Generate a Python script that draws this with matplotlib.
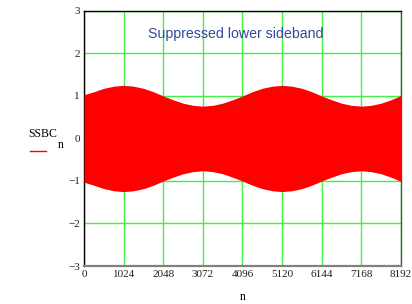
import numpy as np
import matplotlib
matplotlib.use("Agg")
import matplotlib.pyplot as plt
from matplotlib.lines import Line2D

# sample index where the envelope was read (every 256 samples)
n_pts = np.arange(0, 8193, 256)
# upper / lower envelope of the dense red signal
upper_env = [1.03, 1.10, 1.18, 1.23, 1.25, 1.23, 1.18, 1.10, 1.00, 0.91, 0.83, 0.78, 0.76,
             0.78, 0.83, 0.91, 1.00, 1.10, 1.18, 1.23, 1.25, 1.23, 1.18, 1.10, 1.00, 0.91,
             0.83, 0.78, 0.76, 0.78, 0.83, 0.91, 1.01]
lower_env = [-1.03, -1.10, -1.18, -1.23, -1.25, -1.23, -1.18, -1.10, -1.00, -0.91, -0.83, -0.78, -0.76,
             -0.78, -0.83, -0.91, -1.00, -1.10, -1.18, -1.23, -1.25, -1.23, -1.18, -1.10, -1.00, -0.91,
             -0.83, -0.78, -0.76, -0.78, -0.83, -0.91, -1.01]

x_ticks = [0, 1024, 2048, 3072, 4096, 5120, 6144, 7168, 8192]
y_ticks = [-3, -2, -1, 0, 1, 2, 3]
y_labels = ["\u22123", "\u22122", "\u22121", "0", "1", "2", "3"]

fig = plt.figure(figsize=(4.12, 3.04), dpi=100)
ax = fig.add_axes([0.204, 0.125, 0.769, 0.839])

ax.fill_between(n_pts, lower_env, upper_env, color="#ff0000", lw=0, zorder=3)

ax.set_xlim(0, 8192)
ax.set_ylim(-3, 3)
ax.set_xticks(x_ticks)
ax.set_yticks(y_ticks)
ax.set_xticklabels([str(t) for t in x_ticks], family="Liberation Serif", fontsize=8)
ax.set_yticklabels(y_labels, family="Liberation Serif", fontsize=8)
ax.tick_params(length=0, pad=3, colors="#202020")
ax.grid(True, color="#44ee44", lw=1.0, zorder=1)

for s in ["left", "top"]:
    ax.spines[s].set_color("#000000")
    ax.spines[s].set_linewidth(1.0)
ax.spines["bottom"].set_color("#808080")
ax.spines["bottom"].set_linewidth(1.6)
ax.spines["right"].set_color("#505050")
ax.spines["right"].set_linewidth(1.0)

ax.text(0.48, 0.91, "Suppressed lower sideband", transform=ax.transAxes,
        ha="center", va="center", family="Liberation Sans", fontsize=10.2,
        color="#34479a", zorder=5)

# axis labels in Mathcad style
fig.text(243 / 412, 1 - 297 / 304, "n", family="Liberation Serif", fontsize=8.5,
         ha="center", va="center")
fig.text(43 / 412, 1 - 134 / 304, "SSBC", family="Liberation Serif", fontsize=8.5,
         ha="center", va="center")
fig.text(61 / 412, 1 - 145 / 304, "n", family="Liberation Serif", fontsize=8.5,
         ha="center", va="center")
fig.add_artist(Line2D([30 / 412, 46 / 412], [1 - 151 / 304, 1 - 151 / 304],
                      color="#ff0000", lw=1.0, transform=fig.transFigure))

fig.savefig("out.png", dpi=100)
